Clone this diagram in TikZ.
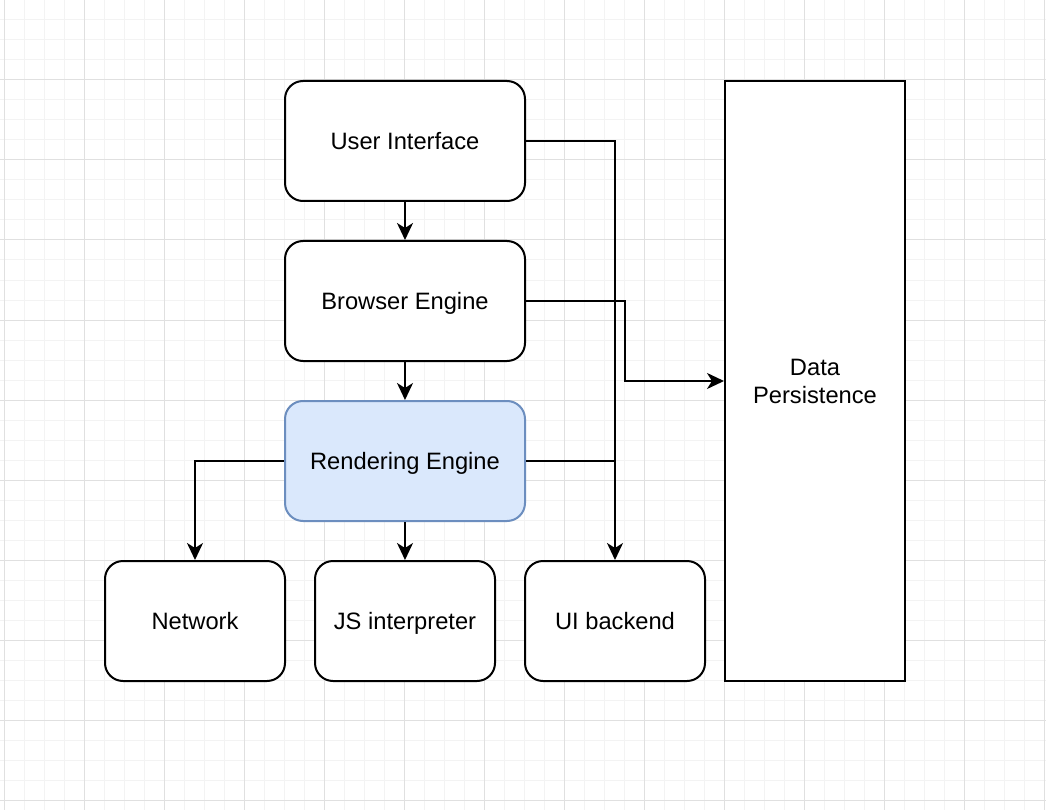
\documentclass[tikz,border=0pt]{standalone}
\usepackage{fontspec}
\setmainfont{Liberation Sans}
\usetikzlibrary{arrows.meta}
\definecolor{gridminor}{HTML}{F3F3F3}
\definecolor{gridmajor}{HTML}{E0E0E0}
\definecolor{rfill}{HTML}{DAE8FC}
\definecolor{rdraw}{HTML}{6C8EBF}
\begin{document}
\begin{tikzpicture}[x=1pt,y=-1pt,
  box/.style={draw=black, line width=2pt, rounded corners=18pt, fill=white,
    font=\fontsize{23.7}{28}\selectfont, align=center, inner sep=0pt},
  onel/.style={text height=19pt, text depth=2pt},
  conn/.style={line width=2pt, -{Stealth[length=17pt,width=16pt,inset=5pt]}},
  plain/.style={line width=2pt}]
\useasboundingbox (0,0) rectangle (1046,810);
\fill[white] (0,0) rectangle (1046,810);
% grid
\foreach \x in {4,24,...,1044} \draw[gridminor, line width=1pt] (\x,0) -- (\x,810);
\foreach \y in {0,20,...,800} \draw[gridminor, line width=1pt] (0,\y) -- (1046,\y);
\foreach \x in {4,84,...,1044} \draw[gridmajor, line width=1pt] (\x,0) -- (\x,810);
\foreach \y in {80,160,...,800} \draw[gridmajor, line width=1pt] (0,\y) -- (1046,\y);
% nodes
\node[box, onel, minimum width=240pt, minimum height=120pt] (ui) at (405,141) {User Interface};
\node[box, onel, minimum width=240pt, minimum height=120pt] (be) at (405,301) {Browser Engine};
\node[box, onel, minimum width=240pt, minimum height=120pt, fill=rfill, draw=rdraw] (re) at (405,461) {Rendering Engine};
\node[box, onel, minimum width=180pt, minimum height=120pt] (net) at (195,621) {Network};
\node[box, onel, minimum width=180pt, minimum height=120pt] (js) at (405,621) {JS interpreter};
\node[box, onel, minimum width=180pt, minimum height=120pt] (uib) at (615,621) {UI backend};
\node[box, rounded corners=0pt, minimum width=180pt, minimum height=600pt] (dp) at (815,381) {Data\\Persistence};
% connectors
\draw[conn] (ui.south) -- (be.north);
\draw[conn] (be.south) -- (re.north);
\draw[conn] (re.south) -- (js.north);
\draw[conn] (re.west) -| (net.north);
\draw[conn] (ui.east) -| (uib.north);
\draw[plain] (re.east) -- (uib.north |- re.east);
\draw[conn] (be.east) -- (625,301) |- (dp.west);
\end{tikzpicture}
\end{document}
